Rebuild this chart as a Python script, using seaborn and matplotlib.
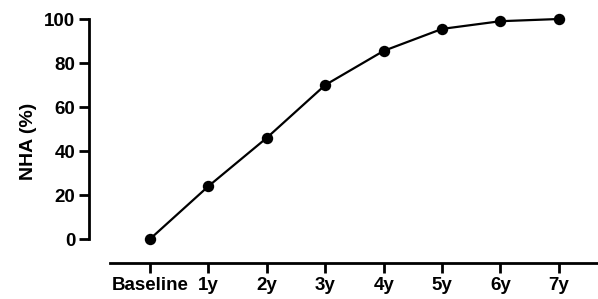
import seaborn as sns
import pandas as pd
import matplotlib.pyplot as plt

timepoints = ["Baseline", "1y", "2y", "3y", "4y", "5y", "6y", "7y"]
nha_pct = [0, 24, 46, 70, 85.5, 95.5, 99, 100]

sns.set_style("ticks")
plt.rcParams['font.family'] = ['Liberation Sans', 'DejaVu Sans']
plt.rcParams['font.weight'] = 'bold'

df = pd.DataFrame({"time": timepoints, "nha": nha_pct})

fig = plt.figure(figsize=(5.98, 2.99), dpi=100)
ax = fig.add_axes([110 / 598, 36 / 299, 488 / 598, 244 / 299])

sns.pointplot(data=df, x="time", y="nha", color="black", markers="o",
              linewidth=1.6, markersize=7, ax=ax)
# let the top marker sit on the axes edge without being cut
for art in ax.lines + ax.collections:
    art.set_clip_on(False)

ax.set_xlim(-0.685, 7.67)
ax.set_ylim(-10.9, 100)
ax.set_yticks([0, 20, 40, 60, 80, 100])

for s in ["top", "right"]:
    ax.spines[s].set_visible(False)
ax.spines["left"].set_position(("outward", 15))
ax.spines["left"].set_bounds(0, 100)
ax.spines["left"].set_linewidth(2)
ax.spines["bottom"].set_linewidth(2)
ax.spines["left"].set_color("black")
ax.spines["bottom"].set_color("black")
ax.tick_params(width=2, length=7, labelsize=13.5, colors="black", pad=3)
for lab in ax.get_xticklabels() + ax.get_yticklabels():
    lab.set_fontweight("bold")

ax.set_xlabel("")
ax.set_ylabel("NHA (%)", fontsize=14, fontweight="bold", color="black", labelpad=5)

fig.savefig("out.png", dpi=100)
